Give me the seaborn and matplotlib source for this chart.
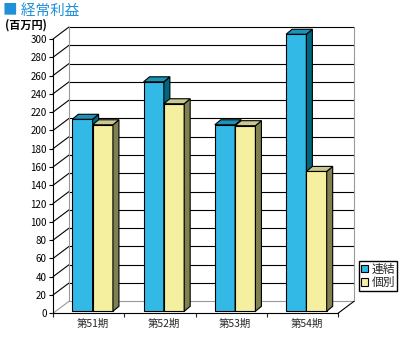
import matplotlib
matplotlib.use("Agg")
import matplotlib.pyplot as plt
import matplotlib.transforms as mtrans
from matplotlib.patches import Polygon, Rectangle
from matplotlib.lines import Line2D
import pandas as pd
import seaborn as sns

# --- data -------------------------------------------------------------
periods = ["第51期", "第52期", "第53期", "第54期"]
series_names = ["連結", "個別"]
consolidated = [210, 251, 204, 303]   # 百万円
standalone = [204, 227, 203, 153]     # 百万円
y_ticks = list(range(0, 301, 20))

df = pd.DataFrame({
    "期": periods * 2,
    "経常利益": consolidated + standalone,
    "区分": [series_names[0]] * len(periods) + [series_names[1]] * len(periods),
})

# --- style ------------------------------------------------------------
sns.set_style("white")
plt.rcParams["font.family"] = ["Noto Sans CJK JP", "DejaVu Sans"]

front_colors = {"連結": "#33B9E6", "個別": "#F5F0A0"}
side_colors = {"連結": "#006680", "個別": "#808050"}
top_colors = {"連結": "#1A93B8", "個別": "#C8C890"}

W, H, DPI = 400, 337, 100
fig = plt.figure(figsize=(W / DPI, H / DPI), dpi=DPI)


def px_rect(left, top, right, bottom):
    return [left / W, 1 - bottom / H, (right - left) / W, (bottom - top) / H]


# front plane of the 3-D box
ax = fig.add_axes(px_rect(53, 39, 338, 313.3))
ax.set_facecolor("none")

sns.barplot(data=df, x="期", y="経常利益", hue="区分", hue_order=series_names,
            palette=front_colors, saturation=1, width=0.57, gap=0,
            edgecolor="black", linewidth=0.8, legend=False, ax=ax)
ax.set_xlim(-0.5, len(periods) - 0.5)
ax.set_ylim(0, 300)

# pixel sizes of one data unit
p0 = ax.transData.transform((0, 0))
px_x = ax.transData.transform((1, 0))[0] - p0[0]
px_y = ax.transData.transform((0, 1))[1] - p0[1]

# depth of the walls and of each bar, in data units
wall_dx, wall_dy = 16 / px_x, 12 / px_y
bar_dx, bar_dy = 6 / px_x, 5 / px_y
x_lo, x_hi = -0.5, len(periods) - 0.5

# --- walls and gridlines ----------------------------------------------
grey = "#999999"
for t in y_ticks:
    c = grey if t == 0 else "black"
    ax.add_line(Line2D([x_lo, x_lo + wall_dx], [t, t + wall_dy], color=c,
                       lw=0.8, clip_on=False, zorder=1))
    ax.add_line(Line2D([x_lo + wall_dx, x_hi + wall_dx], [t + wall_dy, t + wall_dy],
                       color=c, lw=0.8, clip_on=False, zorder=1))
for xb in (x_lo + wall_dx, x_hi + wall_dx):
    ax.add_line(Line2D([xb, xb], [wall_dy, 300 + wall_dy], color=grey, lw=0.8,
                       clip_on=False, zorder=1))
ax.add_line(Line2D([x_hi, x_hi + wall_dx], [0, wall_dy], color="black", lw=0.8,
                   clip_on=False, zorder=1))

# --- 3-D bars ---------------------------------------------------------
bar_shift = ax.transData + mtrans.ScaledTranslation(4 / DPI, 2 / DPI, fig.dpi_scale_trans)
bars = list(ax.patches)
n = len(periods)
for i, bar in enumerate(bars):
    name = series_names[i // n]
    z = 3 + (i // n) * 0.5
    bar.set_transform(bar_shift)
    bar.set_zorder(z)
    bar.set_clip_on(False)
    x0, w, h = bar.get_x(), bar.get_width(), bar.get_height()
    x1 = x0 + w
    side = Polygon([(x1, 0), (x1, h), (x1 + bar_dx, h + bar_dy), (x1 + bar_dx, bar_dy)],
                   closed=True, fc=side_colors[name], ec="black", lw=0.8,
                   transform=bar_shift, clip_on=False, zorder=z + 0.1)
    top = Polygon([(x0, h), (x1, h), (x1 + bar_dx, h + bar_dy), (x0 + bar_dx, h + bar_dy)],
                  closed=True, fc=top_colors[name], ec="black", lw=0.8,
                  transform=bar_shift, clip_on=False, zorder=z + 0.1)
    ax.add_patch(side)
    ax.add_patch(top)

# --- axes -------------------------------------------------------------
for s in ("top", "right"):
    ax.spines[s].set_visible(False)
for s in ("left", "bottom"):
    ax.spines[s].set_color("black")
    ax.spines[s].set_linewidth(0.8)
    ax.spines[s].set_zorder(2)

ax.set_yticks(y_ticks)
ax.set_yticklabels([str(t) for t in y_ticks])
ax.tick_params(axis="y", direction="out", length=3, width=0.8, pad=1.5,
               labelsize=7, colors="black", left=True)
ax.set_xticks(range(n))
ax.set_xticklabels(periods)
ax.set_xticks([k + 0.5 for k in range(-1, n)], minor=True)
ax.tick_params(axis="x", which="major", length=0, pad=4, labelsize=7.5)
ax.tick_params(axis="x", which="minor", direction="out", length=3, width=0.8,
               bottom=True)
label_shift = mtrans.ScaledTranslation(4 / DPI, 0, fig.dpi_scale_trans)
for lab in ax.get_xticklabels():
    lab.set_transform(lab.get_transform() + label_shift)
ax.set_xlabel("")
ax.set_ylabel("")

# --- legend -----------------------------------------------------------
handles = [Rectangle((0, 0), 1, 1, fc=front_colors[s], ec="black", lw=0.8)
           for s in series_names]
fig.legend(handles, series_names, loc="upper left",
           bbox_to_anchor=(359 / W, 1 - 261 / H), frameon=True, fancybox=False,
           edgecolor="black", framealpha=1, fontsize=8.5, borderpad=0.15,
           handlelength=0.6, handleheight=0.6, handletextpad=0.3,
           labelspacing=0.05, borderaxespad=0)

# --- titles -----------------------------------------------------------
fig.text(3 / W, 1 - 11 / H, "■ 経常利益", color="#2090D8", fontsize=10.5,
         ha="left", va="center")
fig.text(5 / W, 1 - 25 / H, "(百万円)", color="black", fontsize=8,
         fontweight="bold", ha="left", va="center")

fig.savefig("out.png", dpi=DPI, facecolor="white")
